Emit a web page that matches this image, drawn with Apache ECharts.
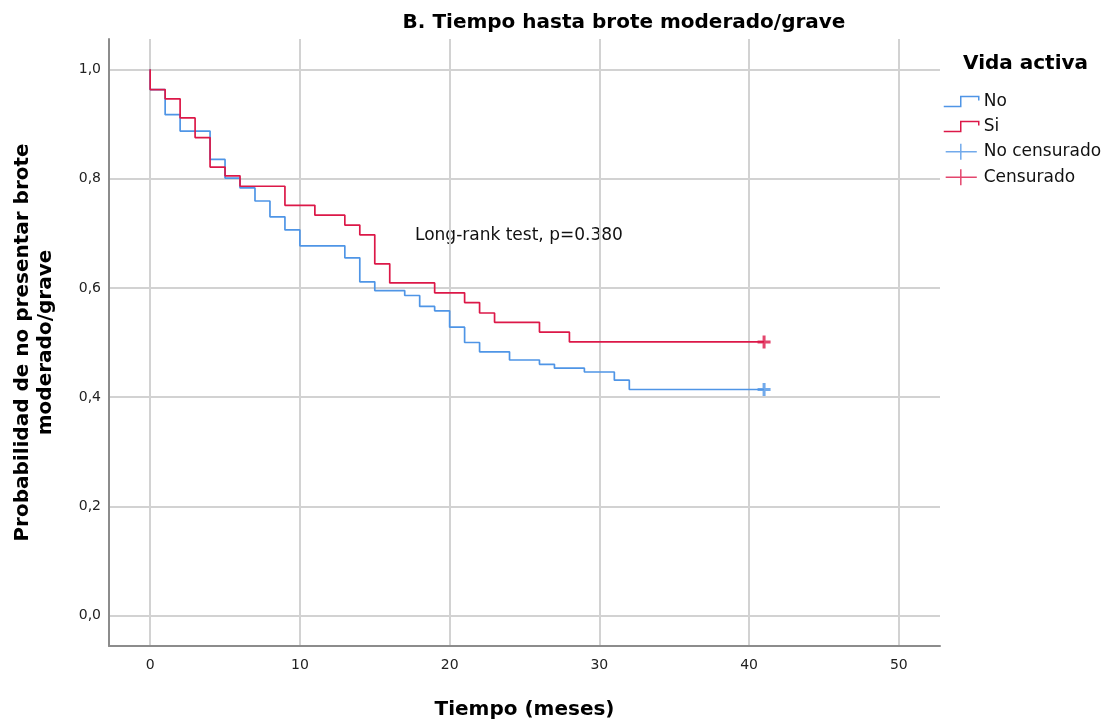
<!DOCTYPE html>
<html>
<head>
<meta charset="utf-8">
<script src="https://cdn.jsdelivr.net/npm/echarts@6/dist/echarts.min.js"></script>
<style>html,body{margin:0;padding:0;background:#fff}#c{width:1113px;height:725px}</style>
</head>
<body>
<div id="c"></div>
<script>
// Data
const timeTicks = [0, 10, 20, 30, 40, 50];
const probTicks = [0, 0.2, 0.4, 0.6, 0.8, 1.0];
const noTimes = [0, 0, 1, 2, 4, 5, 6, 7, 8, 9, 10, 13, 14, 15, 17, 18, 19, 20, 21, 22, 24, 26, 27, 29, 31, 32, 41];
const noSurv  = [1.0, 0.963, 0.917, 0.887, 0.835, 0.801, 0.783, 0.759, 0.730, 0.706, 0.677, 0.655, 0.611, 0.595, 0.586, 0.566, 0.558, 0.528, 0.500, 0.483, 0.468, 0.460, 0.453, 0.446, 0.431, 0.414, 0.414];
const siTimes = [0, 0, 1, 2, 3, 4, 5, 6, 9, 11, 13, 14, 15, 16, 19, 21, 22, 23, 26, 28, 41];
const siSurv  = [1.0, 0.963, 0.946, 0.911, 0.875, 0.821, 0.805, 0.786, 0.751, 0.733, 0.715, 0.697, 0.644, 0.609, 0.591, 0.573, 0.554, 0.537, 0.519, 0.501, 0.501];
const noCensorTimes = [41];
const noCensorSurv = [0.414];
const siCensorTimes = [41];
const siCensorSurv = [0.501];
const groupNames = ['No', 'Si', 'No censurado', 'Censurado'];

const BLUE = '#4f95e6';
const RED = '#dc1848';
const FONT = '"DejaVu Sans", sans-serif';

const zip = (a, b) => a.map((v, i) => [v, b[i]]);

const chart = echarts.init(document.getElementById('c'), null, {renderer: 'canvas'});
const stepIcon = 'path://M0,10 L17,10 L17,0 L35,0 L35,4';
const crossIcon = 'path://M0,9 L35,9 M17,0 L17,18';

chart.setOption({
  backgroundColor: '#fff',
  animation: false,
  textStyle: {fontFamily: FONT},
  title: [
    {text: 'B. Tiempo hasta brote moderado/grave', left: 619, textAlign: 'center', top: 8,
     textStyle: {fontSize: 20, fontWeight: 'bold', color: '#000', fontFamily: FONT}},
    {text: 'Vida activa', left: 958, top: 49,
     textStyle: {fontSize: 20, fontWeight: 'bold', color: '#000', fontFamily: FONT}}
  ],
  grid: {left: 109, right: 1113 - 940, top: 39, bottom: 725 - 646, containLabel: false},
  legend: {
    orient: 'vertical', left: 943, top: 93, padding: 0, itemWidth: 35, itemHeight: 16, itemGap: 8,
    textStyle: {fontSize: 17, color: '#111', fontFamily: FONT},
    data: [
      {name: groupNames[0], icon: stepIcon, itemStyle: {color: 'transparent', borderColor: BLUE, borderWidth: 1.5}},
      {name: groupNames[1], icon: stepIcon, itemStyle: {color: 'transparent', borderColor: RED, borderWidth: 1.5}},
      {name: groupNames[2], icon: crossIcon, itemStyle: {color: 'transparent', borderColor: BLUE, borderWidth: 1.5}},
      {name: groupNames[3], icon: crossIcon, itemStyle: {color: 'transparent', borderColor: RED, borderWidth: 1.5}}
    ]
  },
  xAxis: {
    type: 'value', min: -2.75, max: 52.75,
    name: 'Tiempo (meses)', nameLocation: 'middle', nameGap: 54,
    nameTextStyle: {fontSize: 20, fontWeight: 'bold', color: '#000', fontFamily: FONT},
    axisLine: {show: true, onZero: false, lineStyle: {color: '#8c8c8c', width: 2}},
    axisTick: {show: false, customValues: timeTicks},
    axisLabel: {customValues: timeTicks, fontSize: 14, color: '#222', margin: 12, fontFamily: FONT},
    splitLine: {show: true, lineStyle: {color: '#d2d2d2', width: 2}}
  },
  yAxis: {
    type: 'value', min: -0.0555, max: 1.0555,
    name: 'Probabilidad de no presentar brote\nmoderado/grave', nameLocation: 'middle', nameGap: 52,
    nameTextStyle: {fontSize: 20, fontWeight: 'bold', color: '#000', fontFamily: FONT, lineHeight: 23},
    axisLine: {show: true, onZero: false, lineStyle: {color: '#8c8c8c', width: 2}},
    axisTick: {show: false, customValues: probTicks},
    axisLabel: {customValues: probTicks, fontSize: 14, color: '#222', margin: 8, fontFamily: FONT,
      formatter: v => v.toFixed(1).replace('.', ',')},
    splitLine: {show: true, lineStyle: {color: '#d2d2d2', width: 2}}
  },
  graphic: [
    {type: 'text', left: 415, top: 227,
     style: {text: 'Long-rank test, p=0.380', fontSize: 17, fill: '#111', fontFamily: FONT}}
  ],
  series: [
    {name: groupNames[0], type: 'line', step: 'end', data: zip(noTimes, noSurv), showSymbol: false,
     lineStyle: {color: BLUE, width: 1.7}, itemStyle: {color: BLUE}, z: 3},
    {name: groupNames[1], type: 'line', step: 'end', data: zip(siTimes, siSurv), showSymbol: false,
     lineStyle: {color: RED, width: 1.7}, itemStyle: {color: RED}, z: 4},
    {name: groupNames[2], type: 'scatter', data: zip(noCensorTimes, noCensorSurv),
     symbol: 'path://M0,6 L12,6 M6,0 L6,12', symbolSize: 13,
     itemStyle: {color: 'transparent', borderColor: BLUE, borderWidth: 3}, z: 5},
    {name: groupNames[3], type: 'scatter', data: zip(siCensorTimes, siCensorSurv),
     symbol: 'path://M0,6 L12,6 M6,0 L6,12', symbolSize: 13,
     itemStyle: {color: 'transparent', borderColor: RED, borderWidth: 3}, z: 5}
  ]
});
</script>
</body>
</html>
